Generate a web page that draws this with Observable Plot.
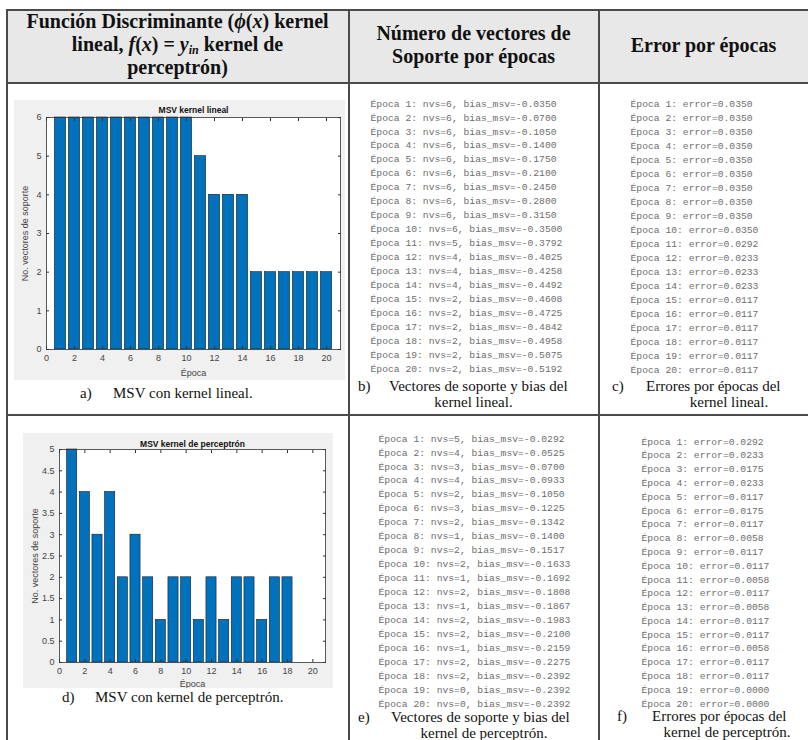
<!DOCTYPE html>
<html><head><meta charset="utf-8">
<script src="https://cdn.jsdelivr.net/npm/d3@7"></script>
<script src="https://cdn.jsdelivr.net/npm/@observablehq/plot@0.6"></script>
<style>
body{margin:0;background:#fff;}
#page{position:relative;width:808px;height:740px;overflow:hidden;background:#fff;font-family:"Liberation Serif","Times New Roman",serif;color:#111;}
.box{position:absolute;}
.hl{position:absolute;height:1.5px;background:#4a4a4a;}
.vl{position:absolute;width:1.5px;background:#4a4a4a;}
.hdr{position:absolute;font-weight:bold;font-size:20px;line-height:23px;text-align:center;color:#111;white-space:nowrap;}
.hdr .sb{font-size:12px;position:relative;top:3px;line-height:0;}
.cap{position:absolute;font-size:15px;line-height:16px;white-space:nowrap;color:#111;}
</style></head><body><div id="page"></div>
<script>
// ---------- data ----------
const epocas = [1,2,3,4,5,6,7,8,9,10,11,12,13,14,15,16,17,18,19,20];
const nvsLineal = [6,6,6,6,6,6,6,6,6,6,5,4,4,4,2,2,2,2,2,2];
const biasLineal = [-0.0350,-0.0700,-0.1050,-0.1400,-0.1750,-0.2100,-0.2450,-0.2800,-0.3150,-0.3500,-0.3792,-0.4025,-0.4258,-0.4492,-0.4608,-0.4725,-0.4842,-0.4958,-0.5075,-0.5192];
const errorLineal = [0.0350,0.0350,0.0350,0.0350,0.0350,0.0350,0.0350,0.0350,0.0350,0.0350,0.0292,0.0233,0.0233,0.0233,0.0117,0.0117,0.0117,0.0117,0.0117,0.0117];
const nvsPerc = [5,4,3,4,2,3,2,1,2,2,1,2,1,2,2,1,2,2,0,0];
const biasPerc = [-0.0292,-0.0525,-0.0700,-0.0933,-0.1050,-0.1225,-0.1342,-0.1400,-0.1517,-0.1633,-0.1692,-0.1808,-0.1867,-0.1983,-0.2100,-0.2159,-0.2275,-0.2392,-0.2392,-0.2392];
const errorPerc = [0.0292,0.0233,0.0175,0.0233,0.0117,0.0175,0.0117,0.0058,0.0117,0.0117,0.0058,0.0117,0.0058,0.0117,0.0117,0.0058,0.0117,0.0117,0.0000,0.0000];
const xTicks = [0,2,4,6,8,10,12,14,16,18,20];
const yTicksLineal = [0,1,2,3,4,5,6];
const yTicksPerc = [0,0.5,1,1.5,2,2.5,3,3.5,4,4.5,5];

const page = document.getElementById("page");
function add(html){ page.insertAdjacentHTML("beforeend", html); }
function place(node, left, top){
  const d = document.createElement("div");
  d.className = "box"; d.style.left = left+"px"; d.style.top = top+"px";
  d.appendChild(node); page.appendChild(d);
}

// ---------- table frame ----------
add(`<div class="box" style="left:7px;top:10px;width:801px;height:72px;background:#e8e8e8"></div>`);
add(`<div class="hl" style="left:7px;top:9px;width:801px"></div>`);
add(`<div class="hl" style="left:7px;top:82px;width:801px"></div>`);
add(`<div class="hl" style="left:7px;top:414px;width:801px"></div>`);
add(`<div class="vl" style="left:6px;top:9px;height:731px"></div>`);
add(`<div class="vl" style="left:348px;top:9px;height:731px"></div>`);
add(`<div class="vl" style="left:598px;top:9px;height:731px"></div>`);

// ---------- headers ----------
add(`<div class="hdr" style="left:7px;width:341px;top:10px">Función Discriminante (<i>ϕ</i>(<i>x</i>) kernel<br>lineal, <i>f</i>(<i>x</i>) = <i>y<span class="sb">in</span></i> kernel de<br>perceptrón)</div>`);
add(`<div class="hdr" style="left:349px;width:249px;top:22px">Número de vectores de<br>Soporte por épocas</div>`);
add(`<div class="hdr" style="left:599px;width:209px;top:34px">Error por épocas</div>`);

// ---------- bar charts ----------
function barChart({title, values, yTicks, yMax, width, height, mt, mr, mb, ml, ylo, xlo, tdy}) {
  const data = epocas.map((e,i)=>({e, v: values[i]}));
  return Plot.plot({
    width, height, marginTop: mt, marginRight: mr, marginBottom: mb, marginLeft: ml,
    style: {background: "#f0f0f0", fontFamily: "'Liberation Sans', Arial, sans-serif", fontSize: "9px", color: "#333"},
    x: {domain: [0,21]},
    y: {domain: [0,yMax]},
    marks: [
      Plot.frame({fill: "white"}),
      Plot.rectY(data, {x1: d=>d.e-0.4, x2: d=>d.e+0.4, y: "v", fill: "#0072BD", stroke: "#1b1b1b", strokeWidth: 0.6}),
      Plot.frame({stroke: "#333", strokeWidth: 0.8}),
      Plot.axisX({anchor: "bottom", ticks: xTicks, tickSize: -3, tickPadding: 8, tickFormat: d=>String(d), label: "Época", labelAnchor: "center", labelArrow: "none", labelOffset: xlo, fill: "#444"}),
      Plot.axisY({anchor: "left", ticks: yTicks, tickSize: -3, tickPadding: 8, tickFormat: d=>String(d), label: "No. vectores de soporte", labelAnchor: "center", labelArrow: "none", labelOffset: ylo, fill: "#444"}),
      Plot.axisX({anchor: "top", ticks: xTicks, tickSize: -3, tickFormat: () => "", label: null}),
      Plot.axisY({anchor: "right", ticks: yTicks, tickSize: -3, tickFormat: () => "", label: null}),
      Plot.text([title], {frameAnchor: "top", dy: tdy, fontWeight: "bold", fontSize: 8.5, fill: "#111"})
    ]
  });
}

place(barChart({title: "MSV kernel lineal", values: nvsLineal, yTicks: yTicksLineal, yMax: 6,
  width: 331, height: 280, mt: 17, mr: 5, mb: 31, ml: 32, ylo: 25, xlo: 26, tdy: -11}), 14, 100);
place(barChart({title: "MSV kernel de perceptrón", values: nvsPerc, yTicks: yTicksPerc, yMax: 5,
  width: 310, height: 255, mt: 16, mr: 8, mb: 26, ml: 36, ylo: 28, xlo: 24, tdy: -9}), 23, 433);

// ---------- console listings ----------
function listing(lines, height, mt, mb, width) {
  return Plot.plot({
    width, height, marginTop: mt, marginBottom: mb, marginLeft: 0, marginRight: 0,
    y: {domain: [1,20], reverse: true, axis: null},
    style: {background: "transparent"},
    marks: [
      Plot.text(epocas, {y: d=>d, text: (d,i)=>lines[i], frameAnchor: "left", textAnchor: "start",
        fontFamily: "'Liberation Mono', 'Courier New', monospace", fontSize: 9.7, fill: "#6e6e6e"})
    ]
  });
}
const linesB = epocas.map((e,i)=>`Época ${e}: nvs=${nvsLineal[i]}, bias_msv=${biasLineal[i].toFixed(4)}`);
const linesC = epocas.map((e,i)=>`Época ${e}: error=${errorLineal[i].toFixed(4)}`);
const linesE = epocas.map((e,i)=>`Época ${e}: nvs=${nvsPerc[i]}, bias_msv=${biasPerc[i].toFixed(4)}`);
const linesF = epocas.map((e,i)=>`Época ${e}: error=${errorPerc[i].toFixed(4)}`);
place(listing(linesB, 285, 8, 12, 220), 370, 95);
place(listing(linesC, 285, 8, 11, 160), 630, 95);
place(listing(linesE, 285, 8, 12, 220), 378, 430);
place(listing(linesF, 285, 11, 12, 160), 641, 430);

// ---------- captions ----------
add(`<div class="cap" style="left:80px;top:385px">a)</div><div class="cap" style="left:113px;top:385px">MSV con kernel lineal.</div>`);
add(`<div class="cap" style="left:62px;top:689px">d)</div><div class="cap" style="left:95px;top:689px">MSV con kernel de perceptrón.</div>`);
add(`<div class="cap" style="left:358px;top:378px">b)</div><div class="cap" style="left:389px;top:378px">Vectores de soporte y bias del</div>`);
add(`<div class="cap" style="left:349px;width:249px;text-align:center;top:394px">kernel lineal.</div>`);
add(`<div class="cap" style="left:612px;top:378px">c)</div><div class="cap" style="left:646px;top:378px">Errores por épocas del</div>`);
add(`<div class="cap" style="left:646px;width:166px;text-align:center;top:394px">kernel lineal.</div>`);
add(`<div class="cap" style="left:358px;top:709px">e)</div><div class="cap" style="left:391px;top:709px">Vectores de soporte y bias del</div>`);
add(`<div class="cap" style="left:349px;width:270px;text-align:center;top:725px">kernel de perceptrón.</div>`);
add(`<div class="cap" style="left:617px;top:708px">f)</div><div class="cap" style="left:652px;top:708px">Errores por épocas del</div>`);
add(`<div class="cap" style="left:652px;width:150px;text-align:center;top:724px">kernel de perceptrón.</div>`);
</script>
</body></html>
